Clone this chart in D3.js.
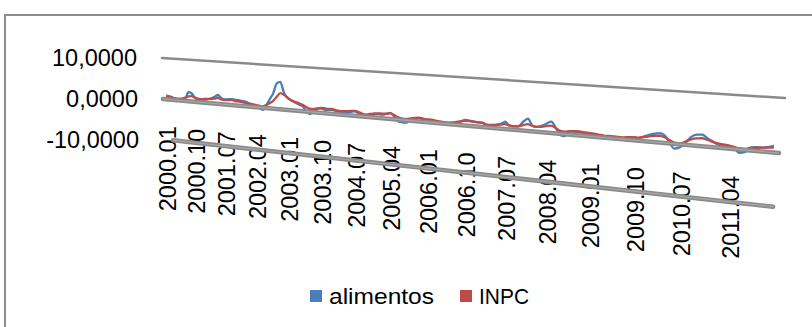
<!DOCTYPE html>
<html>
<head>
<meta charset="utf-8">
<script src="https://cdn.jsdelivr.net/npm/d3@7"></script>
<style>
  body { margin: 0; background: #fff; }
  svg { display: block; }
</style>
</head>
<body>
<svg id="chart" width="812" height="327"></svg>
<script>
'use strict';

// monthly categories 2000.01 .. 2011.12
let months = [];
for (let y = 2000; y <= 2011; y++) {
    for (let m = 1; m <= 12; m++) months.push(y + "." + (m < 10 ? "0" + m : m));
}

// category labels shown on the axis (every 9 months)
const tickLabels = ["2000.01", "2000.10", "2001.07", "2002.04", "2003.01", "2003.10", "2004.07", "2005.04",
    "2006.01", "2006.10", "2007.07", "2008.04", "2009.01", "2009.10", "2010.07", "2011.04"];

const yTicks = [10, 0, -10];

const alimentos = [
    0.9, 0.8, 0.6, 0.3, 0.0, -0.1, 0.4, 2.2, 2.0, 1.0, 0.6, 0.7,
    0.7, 0.9, 1.2, 1.6, 2.1, 1.4, 1.2, 1.3, 1.4, 1.3, 1.3, 1.2,
    1.1, 0.8, 0.6, 0.3, 0.0, -0.5, 0.5, 2.1, 3.5, 5.9, 6.3, 3.9,
    2.8, 2.3, 1.9, 1.5, 1.2, 0.3, -0.5, 0.0, 0.7, 1.0, 0.8, 0.8,
    0.9, 0.7, 0.5, 0.5, 0.6, 0.8, 1.0, 0.6, 0.2, -0.1, 0.3, 0.7,
    0.8, 0.8, 1.0, 1.3, 0.6, -0.4, -0.5, -0.5, 0.1, 0.5, 0.7, 0.5,
    0.4, 0.3, 0.1, 0.0, -0.1, -0.2, 0.0, 0.4, 0.8, 1.2, 1.1, 1.0,
    0.9, 0.9, 0.4, 0.5, 0.7, 0.9, 1.5, 0.8, 0.7, 0.8, 1.8, 2.5,
    1.2, 1.0, 1.3, 1.8, 2.3, 1.2, -0.2, -0.4, 0.6, 0.7, 0.6, 0.6,
    0.6, 0.5, 0.3, 0.2, 0.3, 0.3, 0.3, 0.3, 0.4, 0.5, 0.5, 0.9,
    1.3, 1.6, 1.8, 1.4, 0.2, -0.9, -0.6, 0.3, 1.6, 2.1, 2.2, 1.6,
    1.1, 0.6, 0.5, 0.4, 0.2, -0.6, -0.4, 0.6, 0.7, 0.7, 0.9, 1.2
];

const inpc = [
    0.6, 0.7, 0.5, 0.4, 0.4, 0.5, 0.8, 1.2, 1.3, 1.0, 0.8, 0.7,
    0.9, 1.0, 1.0, 1.2, 1.4, 1.1, 1.0, 1.1, 1.2, 1.0, 1.0, 0.9,
    0.8, 0.6, 0.6, 0.5, 0.4, 0.3, 0.7, 1.2, 1.8, 2.8, 3.7, 3.4,
    2.8, 2.3, 2.0, 1.8, 1.5, 1.1, 0.7, 0.7, 0.9, 1.1, 1.1, 1.0,
    1.1, 0.9, 0.8, 0.8, 0.9, 1.0, 1.1, 0.9, 0.6, 0.5, 0.7, 0.9,
    1.0, 1.0, 1.1, 1.2, 0.9, 0.5, 0.3, 0.3, 0.5, 0.7, 0.8, 0.7,
    0.6, 0.6, 0.5, 0.4, 0.3, 0.3, 0.4, 0.6, 0.8, 1.0, 1.0, 0.9,
    0.9, 0.8, 0.6, 0.6, 0.7, 0.8, 1.0, 0.8, 0.7, 0.8, 1.1, 1.4,
    1.1, 1.0, 1.1, 1.3, 1.5, 1.1, 0.6, 0.5, 0.7, 0.8, 0.8, 0.7,
    0.7, 0.6, 0.5, 0.4, 0.4, 0.4, 0.4, 0.4, 0.5, 0.6, 0.6, 0.8,
    1.0, 1.2, 1.3, 1.1, 0.6, 0.2, 0.2, 0.6, 1.1, 1.4, 1.5, 1.3,
    1.0, 0.8, 0.7, 0.6, 0.4, 0.2, 0.2, 0.5, 0.6, 0.7, 0.8, 0.9
];

const seriesNames = ["alimentos", "INPC"];
const seriesColors = ["#4a7ebb", "#be4b48"];

function getConfig() {
    let svg = d3.select("#chart");
    // the back wall of the 3D chart: top gridline (10) and zero gridline corners
    let wall = { tl: [162, 58], tr: [785, 98], br: [779, 153], bl: [163, 99] };
    return { svg, wall };
}

// unit square -> quad (perspective)
function squareToQuad(q) {
    let [x0, y0] = q.tl, [x1, y1] = q.tr, [x2, y2] = q.br, [x3, y3] = q.bl;
    let dx1 = x1 - x2, dx2 = x3 - x2, dx3 = x0 - x1 + x2 - x3;
    let dy1 = y1 - y2, dy2 = y3 - y2, dy3 = y0 - y1 + y2 - y3;
    let den = dx1 * dy2 - dx2 * dy1;
    let g = (dx3 * dy2 - dx2 * dy3) / den;
    let h = (dx1 * dy3 - dx3 * dy1) / den;
    let a = x1 - x0 + g * x1, b = x3 - x0 + h * x3, c = x0;
    let d = y1 - y0 + g * y1, e = y3 - y0 + h * y3, f = y0;
    return function (u, w) {
        let z = g * u + h * w + 1;
        return [(a * u + b * w + c) / z, (d * u + e * w + f) / z];
    };
}

function getScales(config) {
    let xScale = d3.scalePoint().domain(months).range([0, 1]).padding(1);
    // 10 -> 0 (top gridline), 0 -> 1 (zero gridline), -10 -> 2
    let yScale = d3.scaleLinear().domain([10, 0]).range([0, 1]);
    let project = squareToQuad(config.wall);
    return { xScale, yScale, project };
}

function drawFrame(config) {
    config.svg.append("rect")
        .attr("x", 5).attr("y", 15)
        .attr("width", 830).attr("height", 340)
        .attr("fill", "none")
        .attr("stroke", "#8c8c8c")
        .attr("stroke-width", 2);
}

function drawAxisLabels(config, scales) {
    let { svg } = config;
    let { xScale, yScale, project } = scales;

    svg.selectAll(".ylab").data(yTicks).enter().append("text")
        .attr("class", "ylab")
        .attr("x", d => project(0, yScale(d))[0] - 25)
        .attr("y", d => project(0, yScale(d))[1])
        .attr("dy", "0.35em")
        .attr("text-anchor", "end")
        .style("font-family", "Liberation Sans, Arial, sans-serif")
        .style("font-size", "23.5px")
        .style("fill", "#000")
        .text(d => d3.format(".4f")(d).replace(".", ",").replace("\u2212", "-"));

    svg.selectAll(".xlab").data(tickLabels).enter().append("text")
        .attr("class", "xlab")
        .attr("transform", d => {
            let p = project(xScale(d), yScale(0));
            return "translate(" + (p[0] + 2) + "," + (p[1] + 27) + ") rotate(-90)";
        })
        .attr("dy", "0.35em")
        .attr("text-anchor", "end")
        .style("font-family", "Liberation Sans, Arial, sans-serif")
        .style("font-size", "23.5px")
        .style("fill", "#000")
        .text(d => d);
}

function drawGrid(config, scales) {
    let { svg } = config;
    let { yScale, project } = scales;

    yTicks.forEach(v => {
        // floor edge starts a little to the right in the original
        let u0 = v < 0 ? 0.02 : 0;
        let a = project(u0, yScale(v)), b = project(1, yScale(v));
        let thick = v <= 0;
        svg.append("line")
            .attr("x1", a[0]).attr("y1", a[1]).attr("x2", b[0]).attr("y2", b[1])
            .attr("stroke", "#8a8a8a")
            .attr("stroke-width", thick ? 4.5 : 2.5)
            .attr("stroke-linecap", "round");
        if (thick) {
            svg.append("line")
                .attr("x1", a[0]).attr("y1", a[1]).attr("x2", b[0]).attr("y2", b[1])
                .attr("stroke", "#a8a8a8")
                .attr("stroke-width", 1.2);
        }
    });
}

function drawSeries(config, scales) {
    let { svg } = config;
    let { xScale, yScale, project } = scales;

    let line = d3.line()
        .x(d => project(xScale(d.m), yScale(d.v))[0])
        .y(d => project(xScale(d.m), yScale(d.v))[1])
        .curve(d3.curveMonotoneX);

    [alimentos, inpc].forEach((vals, i) => {
        let data = vals.map((v, j) => ({ m: months[j], v: v }));
        svg.append("path")
            .datum(data)
            .attr("d", line)
            .attr("fill", "none")
            .attr("stroke", seriesColors[i])
            .attr("stroke-width", 2.3)
            .attr("stroke-linejoin", "round");
    });
}

function drawLegend(config) {
    let { svg } = config;
    let items = [
        { name: seriesNames[0], color: seriesColors[0], x: 310, len: 105 },
        { name: seriesNames[1], color: seriesColors[1], x: 460, len: 50 }
    ];
    let g = svg.selectAll(".legend").data(items).enter().append("g")
        .attr("class", "legend")
        .attr("transform", d => "translate(" + d.x + ",296)");
    g.append("rect")
        .attr("x", 0).attr("y", -6)
        .attr("width", 12).attr("height", 12)
        .attr("fill", d => d.color);
    g.append("text")
        .attr("x", 19)
        .attr("dy", "0.35em")
        .attr("textLength", d => d.len)
        .attr("lengthAdjust", "spacingAndGlyphs")
        .style("font-family", "Liberation Sans, Arial, sans-serif")
        .style("font-size", "22px")
        .style("fill", "#000")
        .text(d => d.name);
}

function drawChart() {
    let config = getConfig();
    let scales = getScales(config);
    drawFrame(config);
    drawSeries(config, scales);
    drawAxisLabels(config, scales);
    drawGrid(config, scales);
    drawLegend(config);
}

drawChart();
</script>
</body>
</html>
